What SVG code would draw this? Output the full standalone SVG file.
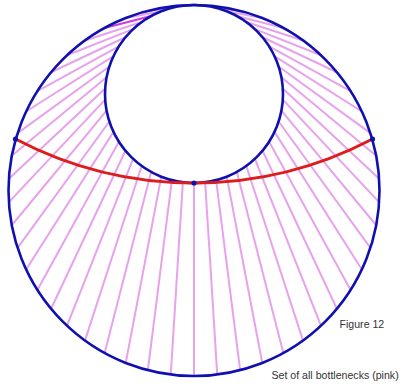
<svg xmlns="http://www.w3.org/2000/svg" width="401" height="385" viewBox="0 0 401 385">
<style>
.b{stroke:#e7a2ec;stroke-width:2;fill:none}
.c{stroke:#1010b0;stroke-width:2.6;fill:none}
.d{fill:#1010b0}
.t{font-family:"Liberation Sans",Arial,sans-serif;font-size:10.6px;fill:#333}
</style>
<rect width="401" height="385" fill="#fff"/>
<g id="bottlenecks" class="b">
<line x1="194" y1="183" x2="194" y2="376"/>
<line x1="182.85" y1="182.30" x2="170.75" y2="374.54"/>
<line x1="171.87" y1="180.20" x2="147.87" y2="370.17"/>
<line x1="161.24" y1="176.75" x2="125.71" y2="362.97"/>
<line x1="151.12" y1="171.99" x2="104.64" y2="353.06"/>
<line x1="141.69" y1="166.00" x2="84.96" y2="340.57"/>
<line x1="133.08" y1="158.88" x2="67.02" y2="325.72"/>
<line x1="125.42" y1="150.73" x2="51.07" y2="308.74"/>
<line x1="118.85" y1="141.69" x2="37.38" y2="289.90"/>
<line x1="113.47" y1="131.89" x2="26.15" y2="269.48"/>
<line x1="109.36" y1="121.50" x2="17.58" y2="247.82"/>
<line x1="106.58" y1="110.68" x2="11.79" y2="225.26"/>
<line x1="105.18" y1="99.59" x2="8.87" y2="202.15"/>
<line x1="105.18" y1="88.41" x2="8.87" y2="178.85"/>
<line x1="106.58" y1="77.32" x2="11.79" y2="155.74"/>
<line x1="109.36" y1="66.50" x2="17.58" y2="133.18"/>
<line x1="113.47" y1="56.11" x2="26.15" y2="111.52"/>
<line x1="118.85" y1="46.31" x2="37.38" y2="91.10"/>
<line x1="125.42" y1="37.27" x2="51.07" y2="72.26"/>
<line x1="133.08" y1="29.12" x2="67.02" y2="55.28"/>
<line x1="141.69" y1="22.00" x2="84.96" y2="40.43"/>
<line x1="151.12" y1="16.01" x2="104.64" y2="27.94" stroke="#d23ad8"/>
<line x1="161.24" y1="11.25" x2="125.71" y2="18.03"/>
<line x1="171.87" y1="7.80" x2="147.87" y2="10.83"/>
<line x1="182.85" y1="5.70" x2="170.75" y2="6.46"/>
<line x1="205.15" y1="182.30" x2="217.25" y2="374.54"/>
<line x1="216.13" y1="180.20" x2="240.13" y2="370.17"/>
<line x1="226.76" y1="176.75" x2="262.29" y2="362.97"/>
<line x1="236.88" y1="171.99" x2="283.36" y2="353.06"/>
<line x1="246.31" y1="166.00" x2="303.04" y2="340.57"/>
<line x1="254.92" y1="158.88" x2="320.98" y2="325.72"/>
<line x1="262.58" y1="150.73" x2="336.93" y2="308.74"/>
<line x1="269.15" y1="141.69" x2="350.62" y2="289.90"/>
<line x1="274.53" y1="131.89" x2="361.85" y2="269.48"/>
<line x1="278.64" y1="121.50" x2="370.42" y2="247.82"/>
<line x1="281.42" y1="110.68" x2="376.21" y2="225.26"/>
<line x1="282.82" y1="99.59" x2="379.13" y2="202.15"/>
<line x1="282.82" y1="88.41" x2="379.13" y2="178.85"/>
<line x1="281.42" y1="77.32" x2="376.21" y2="155.74"/>
<line x1="278.64" y1="66.50" x2="370.42" y2="133.18"/>
<line x1="274.53" y1="56.11" x2="361.85" y2="111.52"/>
<line x1="269.15" y1="46.31" x2="350.62" y2="91.10"/>
<line x1="262.58" y1="37.27" x2="336.93" y2="72.26"/>
<line x1="254.92" y1="29.12" x2="320.98" y2="55.28"/>
<line x1="246.31" y1="22.00" x2="303.04" y2="40.43"/>
<line x1="236.88" y1="16.01" x2="283.36" y2="27.94"/>
<line x1="226.76" y1="11.25" x2="262.29" y2="18.03"/>
<line x1="216.13" y1="7.80" x2="240.13" y2="10.83"/>
<line x1="205.15" y1="5.70" x2="217.25" y2="6.46"/>
</g>
<g id="outer-circle"><circle class="c" cx="194" cy="190.5" r="185.5"/></g>
<g id="inner-circle"><circle class="c" cx="194" cy="94" r="89"/></g>
<g id="red-curve"><path d="M15.5 139 A384 384 0 0 0 372.5 139" fill="none" stroke="#dd1c1c" stroke-width="3"/></g>
<g id="points">
<circle class="d" cx="15.5" cy="139" r="2.6"/>
<circle class="d" cx="372.5" cy="139" r="2.6"/>
<circle class="d" cx="194" cy="183" r="2.6"/>
</g>
<g id="labels">
<text class="t" x="339.5" y="327.8">Figure 12</text>
<text class="t" x="271.5" y="379.2">Set of all bottlenecks (pink)</text>
</g>
</svg>
